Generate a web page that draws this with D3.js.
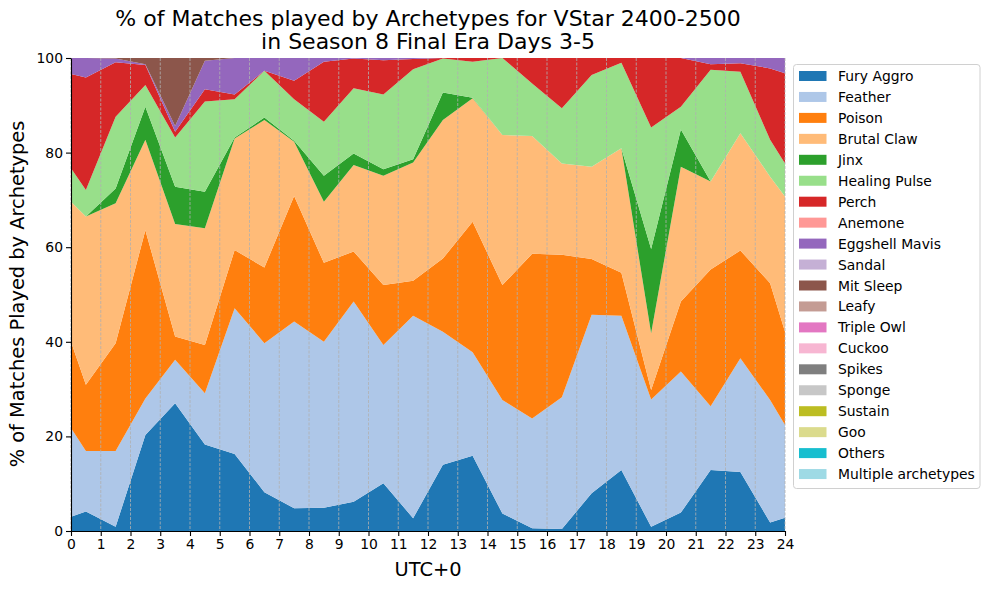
<!DOCTYPE html>
<html><head><meta charset="utf-8">
<script src="https://cdn.jsdelivr.net/npm/d3@7"></script>
<style>body{margin:0;background:#fff}svg{font-family:"DejaVu Sans",sans-serif}</style>
</head><body><svg id="c" width="989" height="590"></svg>
<script>
const hours = [0,0.5,1.5,2.5,3.5,4.5,5.5,6.5,7.5,8.5,9.5,10.5,11.5,12.5,13.5,14.5,15.5,16.5,17.5,18.5,19.5,20.5,21.5,22.5,23.5,24];
const archetypes = ["Fury Aggro","Feather","Poison","Brutal Claw","Jinx","Healing Pulse","Perch","Anemone","Eggshell Mavis","Sandal","Mit Sleep","Leafy","Triple Owl","Cuckoo","Spikes","Sponge","Sustain","Goo","Others","Multiple archetypes"];
const colors = ["#1f77b4","#aec7e8","#ff7f0e","#ffbb78","#2ca02c","#98df8a","#d62728","#ff9896","#9467bd","#c5b0d5","#8c564b","#c49c94","#e377c2","#f7b6d2","#7f7f7f","#c7c7c7","#bcbd22","#dbdb8d","#17becf","#9edae5"];
const xTicks = d3.range(0,25);
const yTicks = [0,20,40,60,80,100];

const furyAggro    = [3.0,4.1,0.9,20.3,27.0,18.3,16.3,8.2,4.8,4.9,6.2,10.1,2.7,14.0,15.9,3.7,0.6,0.4,8.0,12.9,0.9,3.9,12.9,12.5,1.8,2.8];
const feather      = [18.8,12.8,16.0,7.7,9.2,10.8,30.8,31.5,39.5,35.1,42.3,29.2,42.8,28.1,21.9,24.0,23.2,27.9,37.7,32.6,26.9,29.8,13.5,24.0,25.9,19.6];
const poison       = [18.2,14.0,22.8,35.6,4.9,10.2,12.3,16.0,26.5,16.7,10.6,12.7,7.4,15.5,27.6,24.3,34.8,30.1,11.8,9.1,2.0,14.8,28.9,22.8,24.7,19.7];
const brutalClaw   = [29.6,35.6,29.6,19.1,23.8,24.7,23.6,31.2,11.5,12.9,18.3,23.1,25.0,29.3,26.1,31.7,24.9,19.3,19.5,26.3,12.0,28.5,18.6,24.8,22.5,28.6];
const jinx         = [0,0,3.1,7.0,7.9,7.7,0.2,0.5,0.2,5.5,2.4,1.4,0.7,5.8,0.1,0,0,0,0,0,17.8,7.9,0,0,0,0];
const healingPulse = [7.1,5.6,15.2,4.6,10.4,19.1,8.1,9.9,8.8,11.4,13.8,15.8,19.0,7.2,7.6,16.3,11.1,11.7,19.4,18.1,25.7,4.8,23.6,13.0,7.8,7.0];
const perch        = [19.9,23.8,11.5,4.2,1.2,2.6,1.0,0,3.9,12.7,6.3,7.2,2.2,0.1,0.8,0,5.4,10.6,3.6,1.0,14.7,10.3,1.2,1.8,15.1,19.1];
const anemone      = new Array(26).fill(0);
const eggshellMavis= [3.4,4.1,0.8,0.2,1.2,6.0,7.7,2.7,4.8,0.8,0.1,0.5,0.2,0,0,0,0,0,0,0,0,0,1.3,1.1,2.2,3.2];
const sandal       = new Array(26).fill(0);
const mitSleep     = [0,0,0.1,1.3,14.4,0.6,0,0,0,0,0,0,0,0,0,0,0,0,0,0,0,0,0,0,0,0];
const zeros = new Array(26).fill(0);
const seriesValues = [furyAggro,feather,poison,brutalClaw,jinx,healingPulse,perch,anemone,eggshellMavis,sandal,mitSleep,zeros,zeros,zeros,zeros,zeros,zeros,zeros,zeros,zeros];

const rows = hours.map((h,i)=>{const r={hour:h};archetypes.forEach((a,k)=>r[a]=seriesValues[k][i]);return r;});
const svg = d3.select("#c");
const L=71,R=785,T=58,B=531;
const x = d3.scaleLinear().domain([0,24]).range([L,R]);
const y = d3.scaleLinear().domain([0,100]).range([B,T]);
const stacked = d3.stack().keys(archetypes)(rows);
const area = d3.area().x(d=>x(d.data.hour)).y0(d=>y(d[0])).y1(d=>y(d[1]));
svg.append("g").selectAll("path").data(stacked).join("path")
  .attr("d",area).attr("fill",(d,i)=>colors[i]).attr("stroke","none");

// grid
svg.append("g").selectAll("line").data(xTicks).join("line")
  .attr("x1",d=>x(d)).attr("x2",d=>x(d)).attr("y1",T).attr("y2",B)
  .attr("stroke","#b0b0b0").attr("stroke-width",0.8).attr("stroke-dasharray","3,1.5");

const xa = svg.append("g").attr("transform",`translate(0,${B})`).call(d3.axisBottom(x).tickValues(xTicks).tickFormat(d3.format("d")).tickSize(5).tickSizeOuter(0));
const ya = svg.append("g").attr("transform",`translate(${L},0)`).call(d3.axisLeft(y).tickValues(yTicks).tickSize(5).tickSizeOuter(0));
[xa,ya].forEach(a=>{a.selectAll("text").attr("font-size","13.9px").attr("font-family","DejaVu Sans").attr("fill","#000");
  a.select(".domain").attr("stroke","#000").attr("stroke-width",1.1);
  a.selectAll(".tick line").attr("stroke","#000").attr("stroke-width",1.1);});
xa.selectAll("text").attr("dy","0.71em").attr("y",8);
ya.selectAll("text").attr("x",-8);

svg.append("text").attr("x",428).attr("y",26).attr("text-anchor","middle").attr("font-size","22px").text("% of Matches played by Archetypes for VStar 2400-2500");
svg.append("text").attr("x",428).attr("y",49).attr("text-anchor","middle").attr("font-size","22px").text("in Season 8 Final Era Days 3-5");
svg.append("text").attr("x",428).attr("y",576).attr("text-anchor","middle").attr("font-size","19.4px").text("UTC+0");
svg.append("text").attr("transform","translate(24,294) rotate(-90)").attr("text-anchor","middle").attr("font-size","19.4px").text("% of Matches Played by Archetypes");

// legend
const lg = svg.append("g");
lg.append("rect").attr("x",793.5).attr("y",64.5).attr("width",186.5).attr("height",424).attr("rx",3)
  .attr("fill","#fff").attr("fill-opacity",0.8).attr("stroke","#d0d0d0");
archetypes.forEach((a,i)=>{
  const cy = 76 + i*20.95;
  lg.append("rect").attr("x",799).attr("y",cy-5).attr("width",27.5).attr("height",10).attr("fill",colors[i]);
  lg.append("text").attr("x",838).attr("y",cy).attr("dy","0.36em").attr("font-size","13.9px").text(a);
});
</script></body></html>
